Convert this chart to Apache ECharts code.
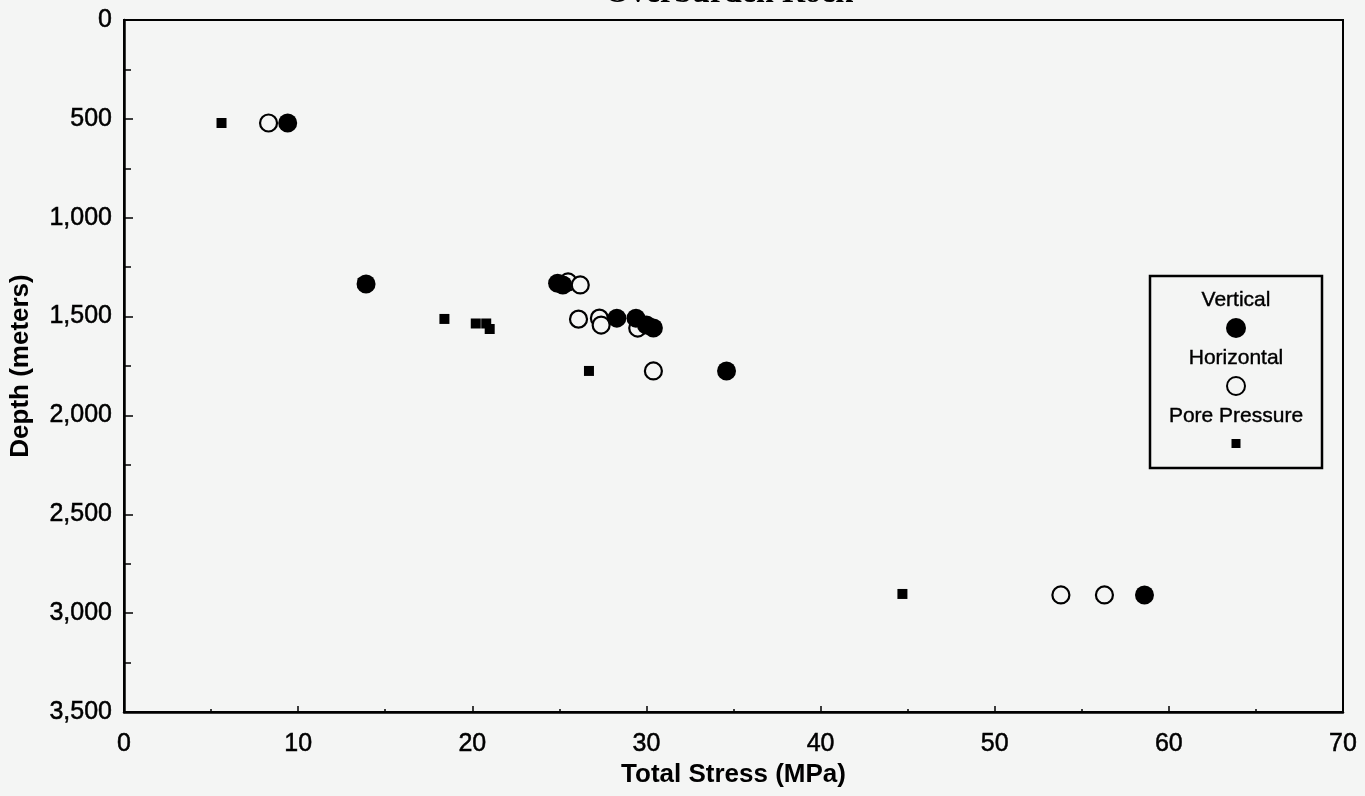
<!DOCTYPE html>
<html>
<head>
<meta charset="utf-8">
<script src="https://cdn.jsdelivr.net/npm/echarts@6/dist/echarts.min.js"></script>
<style>
html,body{margin:0;padding:0;background:#f4f5f4;}
#chart{width:1365px;height:796px;}
</style>
</head>
<body>
<div id="chart"></div>
<script>
// Data
const titleText = 'Overburden Rock';
const xTitle = 'Total Stress (MPa)';
const yTitle = 'Depth (meters)';
const seriesNames = ['Vertical', 'Horizontal', 'Pore Pressure'];

const verticalStress = [9.4, 13.9, 24.9, 25.2, 28.3, 29.4, 30.0, 30.4, 34.6, 58.6];
const verticalDepth  = [521, 1335, 1331, 1340, 1508, 1508, 1543, 1558, 1775, 2908];

const horizontalStress = [8.3, 25.5, 26.2, 26.1, 27.3, 27.4, 29.5, 30.4, 53.8, 56.3];
const horizontalDepth  = [521, 1325, 1340, 1513, 1508, 1543, 1558, 1775, 2908, 2908];

const poreStress = [5.6, 13.7, 18.4, 20.2, 20.8, 21.0, 26.7, 44.7];
const poreDepth  = [521, 1330, 1512, 1535, 1535, 1563, 1775, 2903];

const xTicks = [0, 10, 20, 30, 40, 50, 60, 70];
const yTicks = [0, 500, 1000, 1500, 2000, 2500, 3000, 3500];

function pairs(xs, ys) { return xs.map((x, i) => [x, ys[i]]); }

const bg = '#f4f5f4';
const chart = echarts.init(document.getElementById('chart'), null, {renderer: 'canvas'});

const lx = 1236; // legend centre x
const lfont = '21px "Liberation Sans"';
const heavy = {textBorderColor: '#000', textBorderWidth: 0.5};
const option = {
  backgroundColor: bg,
  animation: false,
  title: {
    text: titleText,
    left: 600,
    top: -27,
    textStyle: {fontFamily: 'Liberation Serif', fontWeight: 'bold', fontSize: 32, color: '#000'}
  },
  grid: {left: 123, right: 22, top: 20, bottom: 84, show: true, borderColor: '#000', borderWidth: 2, backgroundColor: 'transparent'},
  xAxis: {
    type: 'value', min: xTicks[0], max: xTicks[xTicks.length - 1], interval: 10,
    name: xTitle, nameLocation: 'middle', nameGap: 50,
    nameTextStyle: {fontFamily: 'Liberation Sans', fontWeight: 'bold', fontSize: 26, color: '#000'},
    axisLine: {onZero: false, lineStyle: {color: '#000', width: 2.5}},
    axisTick: {inside: true, length: 6, lineStyle: {color: '#000', width: 1.5}},
    minorTick: {show: true, splitNumber: 2, length: 3, lineStyle: {color: '#000', width: 1.5}},
    axisLabel: Object.assign({fontFamily: 'Liberation Sans', fontSize: 25, color: '#000', margin: 20}, heavy),
    splitLine: {show: false}
  },
  yAxis: {
    type: 'value', inverse: true, min: yTicks[0], max: yTicks[yTicks.length - 1], interval: 500,
    name: yTitle, nameLocation: 'middle', nameGap: 90,
    nameTextStyle: {fontFamily: 'Liberation Sans', fontWeight: 'bold', fontSize: 26, color: '#000'},
    axisLine: {onZero: false, lineStyle: {color: '#000', width: 2.5}},
    axisTick: {inside: true, length: 9, lineStyle: {color: '#000', width: 1.5}},
    minorTick: {show: true, splitNumber: 2, length: 7, lineStyle: {color: '#000', width: 1.5}},
    axisLabel: Object.assign({fontFamily: 'Liberation Sans', fontSize: 25, color: '#000', margin: 12,
      formatter: v => v.toLocaleString('en-US')}, heavy),
    splitLine: {show: false}
  },
  series: [
    {
      name: seriesNames[1], type: 'scatter', symbol: 'circle', symbolSize: 17,
      itemStyle: {color: bg, borderColor: '#000', borderWidth: 2.2, opacity: 1},
      data: pairs(horizontalStress, horizontalDepth), z: 2
    },
    {
      name: seriesNames[0], type: 'scatter', symbol: 'circle', symbolSize: 19,
      itemStyle: {color: '#000', opacity: 1},
      data: pairs(verticalStress, verticalDepth), z: 3
    },
    {
      name: seriesNames[2], type: 'scatter', symbol: 'rect', symbolSize: 10,
      itemStyle: {color: '#000', opacity: 1},
      data: pairs(poreStress, poreDepth), z: 4
    }
  ],
  graphic: [
    {type: 'rect', shape: {x: 1150, y: 276, width: 172, height: 192}, style: {fill: bg, stroke: '#000', lineWidth: 2.5}, z: 10},
    {type: 'text', x: lx, y: 300, style: {text: seriesNames[0], fill: '#000', stroke: '#000', lineWidth: 0.4, font: lfont, textAlign: 'center', textVerticalAlign: 'middle'}, z: 11},
    {type: 'circle', shape: {cx: lx, cy: 328, r: 10}, style: {fill: '#000'}, z: 11},
    {type: 'text', x: lx, y: 358, style: {text: seriesNames[1], fill: '#000', stroke: '#000', lineWidth: 0.4, font: lfont, textAlign: 'center', textVerticalAlign: 'middle'}, z: 11},
    {type: 'circle', shape: {cx: lx, cy: 386, r: 9}, style: {fill: bg, stroke: '#000', lineWidth: 2}, z: 11},
    {type: 'text', x: lx, y: 416, style: {text: seriesNames[2], fill: '#000', stroke: '#000', lineWidth: 0.4, font: lfont, textAlign: 'center', textVerticalAlign: 'middle'}, z: 11},
    {type: 'rect', shape: {x: lx - 4.5, y: 439, width: 9, height: 9}, style: {fill: '#000'}, z: 11}
  ]
};
chart.setOption(option);
</script>
</body>
</html>
